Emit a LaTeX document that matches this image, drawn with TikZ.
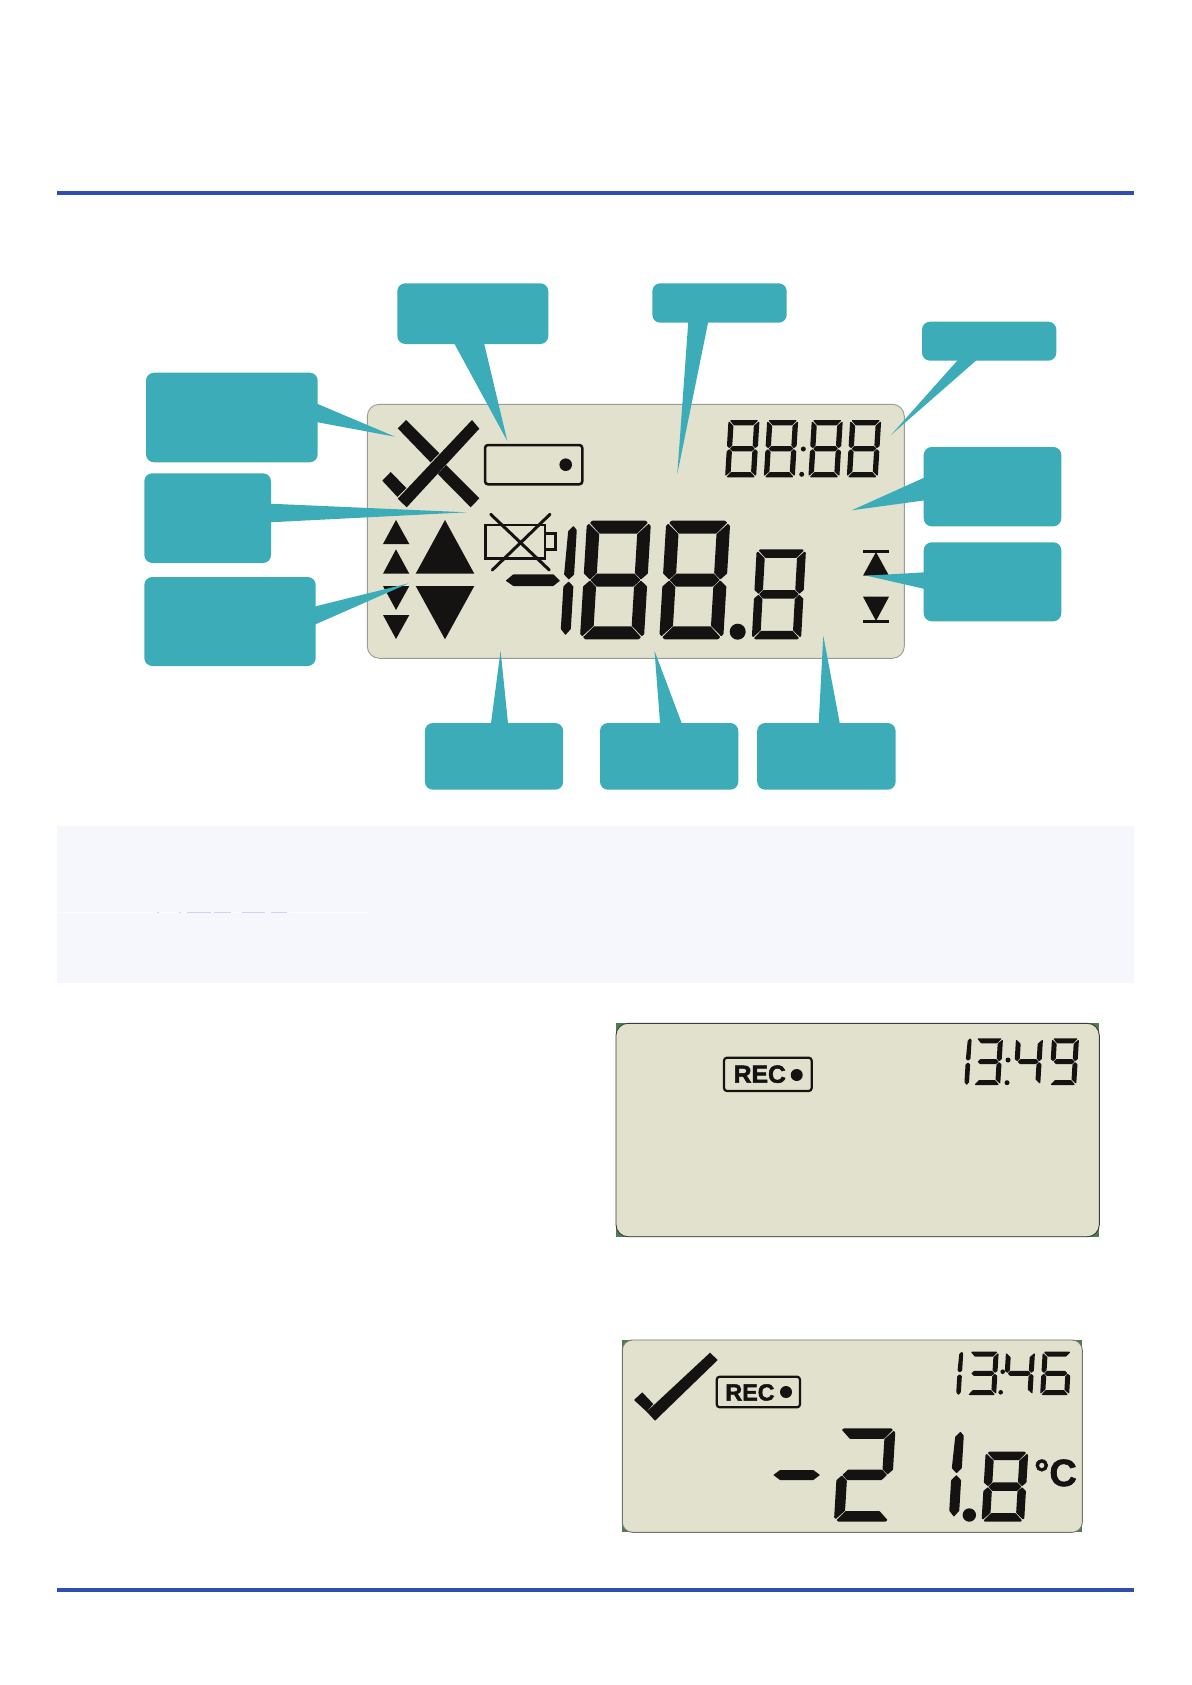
\documentclass[tikz,border=0pt]{standalone}
\usepackage{fontspec}
\setmainfont{Liberation Sans}
\definecolor{tealbox}{HTML}{3CADB8}
\definecolor{lcdface}{HTML}{E1E1CE}
\definecolor{lcdink}{HTML}{141312}
\definecolor{lcdedge}{HTML}{9C9C94}
\definecolor{rule}{HTML}{2F4EAF}
\definecolor{band}{HTML}{F5F7FC}
\definecolor{corner}{HTML}{4C7F50}
\definecolor{stray}{HTML}{CDD3F0}
\tikzset{
  lcdpanel/.style={fill=lcdface,draw=lcdedge,line width=0.9pt,rounded corners=12pt},
  calloutbox/.style={fill=tealbox,rounded corners=8pt,inner sep=0pt,outer sep=0pt},
  ink/.style={fill=lcdink,draw=none},
  seg/.style={fill=lcdink,draw=none,rounded corners=0.5pt},
  inkline/.style={draw=lcdink,line width=2.5pt},
  headrule/.style={draw=rule,line width=4pt},
}
% callout: name, x1, y1, x2, y2, tail base 1, tail base 2, tip
\newcommand\callout[8]{%
  \pgfmathsetmacro\cw{#4-#2}\pgfmathsetmacro\ch{#5-#3}%
  \pgfmathsetmacro\cx{(#2+#4)/2}\pgfmathsetmacro\cy{(#3+#5)/2}%
  \node[calloutbox,minimum width=\cw pt,minimum height=\ch pt] (#1) at (\cx,\cy) {};
  \fill[tealbox] (#6) -- (#7) -- (#8) -- cycle;
}
% segments of a digit: corners chamfered by \dC, seams \dG wide
\newcommand\sega{\fill[seg] (\dC,0) -- ({\dW-\dC},0) -- ({\dW-\dC/2-\dG},{\dC/2-\dG}) -- ({\dW-\dT-\dG},\dT) -- ({\dT+\dG},\dT) -- ({\dC/2+\dG},{\dC/2-\dG}) -- cycle;}
\newcommand\segd{\fill[seg] (\dC,\dH) -- ({\dW-\dC},\dH) -- ({\dW-\dC/2-\dG},{\dH-\dC/2+\dG}) -- ({\dW-\dT-\dG},{\dH-\dT}) -- ({\dT+\dG},{\dH-\dT}) -- ({\dC/2+\dG},{\dH-\dC/2+\dG}) -- cycle;}
\newcommand\segg{\fill[seg] ({\dG+\dT/2},{\dH/2}) -- ({\dT+\dG},{\dH/2-\dT/2}) -- ({\dW-\dT-\dG},{\dH/2-\dT/2}) -- ({\dW-\dT/2-\dG},{\dH/2}) -- ({\dW-\dT-\dG},{\dH/2+\dT/2}) -- ({\dT+\dG},{\dH/2+\dT/2}) -- cycle;}
\newcommand\segb{\fill[seg] (\dW,\dC) -- (\dW,{\dH/2-\dT/2}) -- ({\dW-\dT/2},{\dH/2-\dG}) -- ({\dW-\dT},{\dH/2-\dT/2-\dG}) -- ({\dW-\dT},{\dT+\dG}) -- ({\dW-\dC/2+\dG},{\dC/2+\dG}) -- cycle;}
\newcommand\segc{\fill[seg] (\dW,{\dH-\dC}) -- (\dW,{\dH/2+\dT/2}) -- ({\dW-\dT/2},{\dH/2+\dG}) -- ({\dW-\dT},{\dH/2+\dT/2+\dG}) -- ({\dW-\dT},{\dH-\dT-\dG}) -- ({\dW-\dC/2+\dG},{\dH-\dC/2-\dG}) -- cycle;}
\newcommand\segf{\fill[seg] (0,\dC) -- (0,{\dH/2-\dT/2}) -- ({\dT/2},{\dH/2-\dG}) -- (\dT,{\dH/2-\dT/2-\dG}) -- (\dT,{\dT+\dG}) -- ({\dC/2-\dG},{\dC/2+\dG}) -- cycle;}
\newcommand\sege{\fill[seg] (0,{\dH-\dC}) -- (0,{\dH/2+\dT/2}) -- ({\dT/2},{\dH/2+\dG}) -- (\dT,{\dH/2+\dT/2+\dG}) -- (\dT,{\dH-\dT-\dG}) -- ({\dC/2-\dG},{\dH-\dC/2-\dG}) -- cycle;}
% the two strokes of a figure one, pointed at the ends
\newcommand\segp{\fill[seg] ({\dW-\dT*.35},0) -- (\dW,{\dT*.4}) -- (\dW,{\dH/2-\dT*.6}) -- ({\dW-\dT*.5},{\dH/2-\dG*2}) -- ({\dW-\dT},{\dH/2-\dT*.6}) -- ({\dW-\dT*.85},{\dT*.5}) -- cycle;}
\newcommand\segq{\fill[seg] ({\dW-\dT*.5},{\dH/2+\dG*2}) -- (\dW,{\dH/2+\dT*.6}) -- (\dW,{\dH-\dT*.6}) -- ({\dW-\dT*.5},\dH) -- ({\dW-\dT},{\dH-\dT*.6}) -- ({\dW-\dT},{\dH/2+\dT*.6}) -- cycle;}
% x y W H slant T segments
\newcommand\lcddigit[7]{%
  \begin{scope}[shift={(#1,#2)},cm={1,0,#5,1,(0,0)}]
    \def\dW{#3}\def\dH{#4}\def\dT{#6}\def\dG{0.45}%
    \pgfmathsetmacro\dC{#6*0.4}%
    \foreach \sg in {#7}{\csname seg\sg\endcsname}
  \end{scope}}
\begin{document}
\begin{tikzpicture}[x=1pt,y=-1pt]
\useasboundingbox (0,0) rectangle (1191,1685);
\fill[white] (0,0) rectangle (1191,1685);
% rules
\coordinate (r1a) at (57,193); \coordinate (r1b) at (1134,193);
\coordinate (r2a) at (57,1590); \coordinate (r2b) at (1134,1590);
\draw[headrule] (r1a) -- (r1b);
\draw[headrule] (r2a) -- (r2b);
% band
\fill[band] (57,826) rectangle (1134,983);
\fill[white,opacity=.5] (57,911.9) rectangle (370,912.6);
\foreach \a/\b in {157/158.5,179/180.5,186.6/210.7,213.6/230.8,242.3/265.3,271/286.5}
  \fill[stray] (\a,911.9) rectangle (\b,912.7);
% main LCD
\path[lcdpanel,draw] (367.3,404.3) rectangle (904.3,658.3);
% check and cross
\fill[ink] (472,420) -- (479.3,428.7) -- (406.7,507.3) -- (397.7,498.7) -- cycle;
\fill[ink] (382.3,480.7) -- (390.7,472) -- (406.3,488) -- (397.5,497) -- cycle;
\fill[ink] (397.7,428.3) -- (406,420) -- (439.3,453.3) -- (430.5,462.3) -- cycle;
\fill[ink] (446.2,465) -- (479.3,498.3) -- (470.7,507.3) -- (437.8,474) -- cycle;
% REC outline
\draw[inkline,rounded corners=3pt] (485,445) rectangle (582.3,484.3);
\fill[ink] (565.7,464.7) circle (6.3);
% triangles
\fill[ink] (396,520) -- (409.3,544) -- (383,544) -- cycle;
\fill[ink] (396,549.3) -- (409.3,573.7) -- (383,573.7) -- cycle;
\fill[ink] (445,520) -- (474.3,573.7) -- (415.7,573.7) -- cycle;
\fill[ink] (445,639.3) -- (474.3,586) -- (415.7,586) -- cycle;
\fill[ink] (396,610) -- (409.3,586) -- (383,586) -- cycle;
\fill[ink] (396,639) -- (409.3,615) -- (383,615) -- cycle;
% battery
\draw[inkline] (485.7,525) rectangle (545,558.3);
\draw[inkline] (545,533.3) rectangle (555.7,549.3);
\draw[draw=lcdink,line width=3pt,line cap=round] (490.7,514.3) -- (549.3,570);
\draw[draw=lcdink,line width=3pt,line cap=round] (550,514.3) -- (492.3,570);
% minus
\fill[seg] (505.7,580.7) -- (513.3,574.3) -- (553.3,574.3) -- (560,580.7) -- (553.3,586) -- (513.3,586) -- cycle;
% big digits
\lcddigit{513}{526}{64}{109}{0.06}{10}{p,q}
\lcddigit{587}{520.7}{64}{118.6}{0.06}{13}{a,b,c,d,e,f,g}
\lcddigit{666.3}{520.7}{64}{118.6}{0.06}{13}{a,b,c,d,e,f,g}
\fill[ink] (737.7,631.7) circle (8);
\lcddigit{756.7}{549.3}{49.3}{90}{0.055}{8.5}{a,b,c,d,e,f,g}
% clock
\lcddigit{728.5}{420}{31}{57.3}{0.06}{5.3}{a,b,c,d,e,f,g}
\lcddigit{767.2}{420}{31}{57.3}{0.06}{5.3}{a,b,c,d,e,f,g}
\lcddigit{811.8}{420}{31}{57.3}{0.06}{5.3}{a,b,c,d,e,f,g}
\lcddigit{850.2}{420}{31}{57.3}{0.06}{5.3}{a,b,c,d,e,f,g}
\fill[ink] (803.3,449) circle (2.5);
\fill[ink] (801.7,474.3) circle (2.5);
% max and min markers
\draw[inkline] (863,551.7) -- (889,551.7);
\fill[ink] (876,552) -- (889,575.7) -- (863,575.7) -- cycle;
\fill[ink] (876,621) -- (889,596.7) -- (863,596.7) -- cycle;
\draw[inkline] (863,621.7) -- (889,621.7);
% callouts
\callout{cRec}{397.3}{283.3}{548.3}{344}{454,343}{484,343}{507.3,441}
\callout{cCheck}{146}{372.7}{317.7}{462.3}{316,403.3}{316,422}{395,436.7}
\callout{cBatt}{144.3}{473.3}{271}{563}{270,503.7}{270,522.3}{466.7,512.3}
\callout{cArrow}{144.3}{577}{315.7}{666}{314,606.7}{314,625}{408.7,583.3}
\callout{cTop}{652.3}{283.3}{786.7}{322.7}{688.3,321.5}{708.3,321.5}{677.3,474}
\callout{cClock}{922}{321.7}{1056.3}{360.7}{958.3,359.5}{977.3,359.5}{891,435}
\callout{cRight}{923.7}{447}{1061.3}{526.3}{925,477.3}{925,500.3}{851.7,510.3}
\callout{cMax}{923.7}{542.3}{1061.3}{621.3}{925,572.3}{925,589}{866.7,575.7}
\callout{cLeftB}{424.9}{723}{563.2}{789.7}{490.9,724}{508.1,724}{500.6,650.7}
\callout{cMidB}{600}{723}{738.3}{789.7}{660.2,725}{682,724}{654.5,650.7}
\callout{cRightB}{757.2}{723}{895.6}{789.7}{818.6,725}{839.9,724}{823.3,635.7}
% second LCD
\fill[corner] (616,1023.3) rectangle (1099.3,1236.7);
\path[lcdpanel,draw=lcdink!70!lcdedge] (616,1023.3) rectangle (1099.3,1236.7);
\draw[draw=lcdink,line width=2.2pt,rounded corners=3pt] (724,1057.7) rectangle (811.7,1091);
\node[anchor=base west,inner sep=0pt,text=lcdink,font=\fontsize{24.7pt}{26pt}\selectfont\bfseries\addfontfeature{FakeBold=2}] (recA) at (733.5,1082.7) {REC};
\fill[ink] (796.7,1075) circle (6);
\lcddigit{944.7}{1038.3}{27}{46.7}{0.06}{4.6}{p,q}
\lcddigit{976}{1038.3}{27}{46.7}{0.06}{5}{a,b,c,d,g}
\fill[ink] (1008,1060) circle (2.5);
\fill[ink] (1007,1082.7) circle (2.5);
\lcddigit{1016}{1038.3}{27}{46.7}{0.06}{5}{b,c,f,g}
\lcddigit{1052}{1038.3}{27}{46.7}{0.06}{5}{a,b,c,d,f,g}
% third LCD
\fill[corner] (622.3,1340) rectangle (1082.3,1532.3);
\path[lcdpanel,draw=lcdedge!70!lcdink,rounded corners=10pt] (622.3,1340) rectangle (1082.3,1532.3);
\fill[ink] (710,1352.7) -- (717.7,1360) -- (655,1420.7) -- (646.7,1411.7) -- cycle;
\fill[ink] (634,1400) -- (642.3,1392.3) -- (653.3,1404) -- (646.7,1411.7) -- cycle;
\draw[draw=lcdink,line width=2.2pt,rounded corners=3pt] (716.7,1376.7) rectangle (800,1407.3);
\node[anchor=base west,inner sep=0pt,text=lcdink,font=\fontsize{23.3pt}{25pt}\selectfont\bfseries\addfontfeature{FakeBold=2}] (recB) at (725.2,1400.5) {REC};
\fill[ink] (786,1392) circle (6);
\lcddigit{934.3}{1351.7}{29}{43.3}{0.06}{4.6}{p,q}
\lcddigit{969.7}{1351.7}{29}{43.3}{0.06}{5}{a,b,c,d,g}
\fill[ink] (1002.7,1371.7) circle (2.3);
\fill[ink] (1000.7,1392.3) circle (2.3);
\lcddigit{1006}{1351.7}{29}{43.3}{0.06}{5}{b,c,f,g}
\lcddigit{1042.7}{1351.7}{29}{43.3}{0.06}{5}{a,c,d,e,f,g}
\fill[seg] (773.3,1475) -- (780,1470) -- (813.3,1470) -- (820,1475) -- (813.3,1480) -- (780,1480) -- cycle;
\lcddigit{839.5}{1428.3}{56}{93.3}{0.06}{10.5}{a,b,d,e,g}
\lcddigit{908}{1431.7}{56}{85}{0.06}{10}{p,q}
\fill[ink] (969.3,1515) circle (6.7);
\lcddigit{985.7}{1451.7}{42.6}{70}{0.06}{8.5}{a,b,c,d,e,f,g}
\node[anchor=base west,inner sep=0pt,text=lcdink,font=\fontsize{38pt}{40pt}\selectfont\bfseries\addfontfeature{FakeBold=1.5}] (unit) at (1034,1486) {°C};
\end{tikzpicture}
\end{document}
